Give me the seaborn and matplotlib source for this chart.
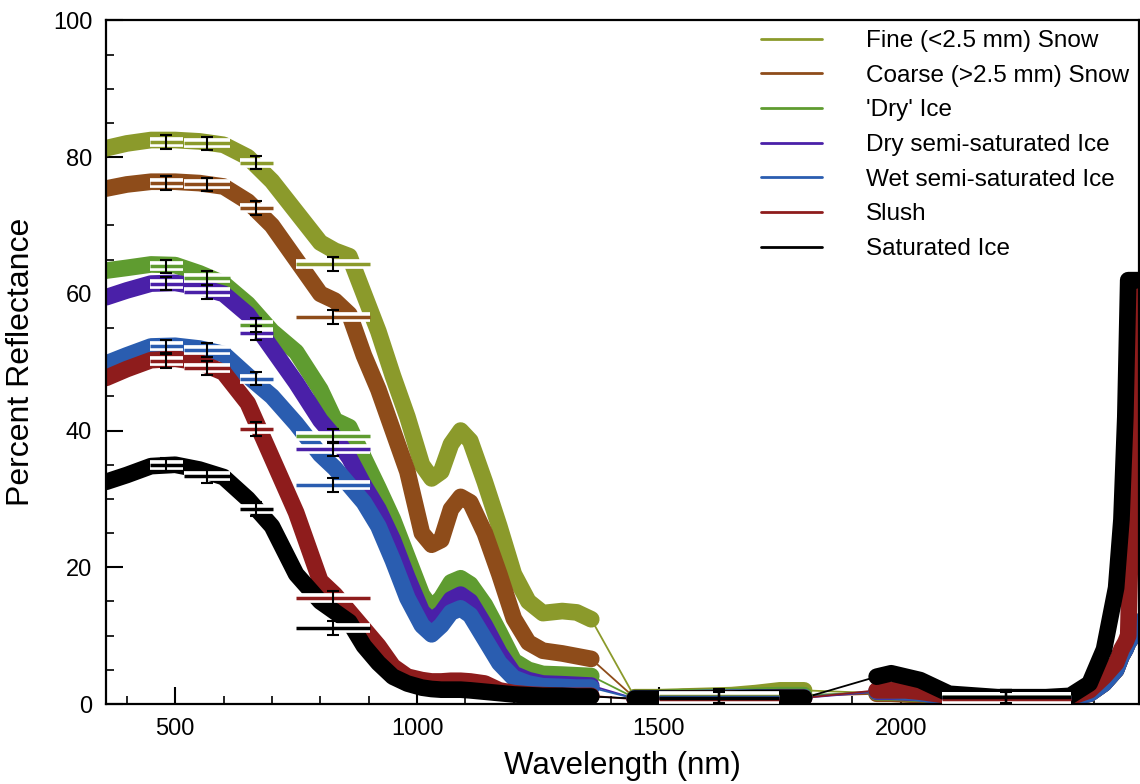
import numpy as np
import pandas as pd
import matplotlib
matplotlib.use("Agg")
import matplotlib.pyplot as plt
from matplotlib.lines import Line2D
from matplotlib.ticker import MultipleLocator
import seaborn as sns

# ---------------- data ----------------
series = ["Fine (<2.5 mm) Snow", "Coarse (>2.5 mm) Snow", "'Dry' Ice",
          "Dry semi-saturated Ice", "Wet semi-saturated Ice", "Slush", "Saturated Ice"]
colors = ["#8b9a2b", "#8e4c1a", "#5f9c30", "#4a20a8", "#2a5db0", "#8e1c1c", "#000000"]

wl_vnir = [357, 400, 450, 500, 550, 600, 650, 700, 750, 800, 830, 860, 890, 920, 950,
           980, 1010, 1030, 1050, 1070, 1090, 1110, 1140, 1170, 1200, 1230, 1260, 1300, 1330, 1360]
wl_swir1 = [1450, 1500, 1550, 1600, 1650, 1700, 1750, 1800]
wl_swir2 = [1950, 1980, 2010, 2040, 2070, 2100, 2200, 2300, 2350, 2390, 2420, 2445, 2456,
            2464, 2470, 2480, 2492]

fine_vnir = [81.3, 82.0, 82.5, 82.5, 82.3, 81.8, 80.0, 76.5, 72.0, 67.5, 66.3, 65.5, 60.0, 54.5, 48.0,
             42.0, 35.0, 33.0, 34.0, 38.0, 40.0, 38.5, 32.5, 26.0, 19.0, 15.0, 13.3, 13.6, 13.4, 12.4]
coarse_vnir = [75.4, 76.0, 76.4, 76.4, 76.2, 75.7, 73.5, 70.0, 65.0, 60.0, 59.0, 57.0, 51.0, 46.0, 40.0,
               34.0, 25.0, 23.3, 24.0, 28.5, 30.3, 29.5, 25.0, 19.0, 12.5, 9.0, 7.8, 7.4, 7.0, 6.6]
dryice_vnir = [63.4, 63.8, 64.3, 64.2, 63.0, 61.5, 58.5, 54.5, 51.5, 46.0, 41.5, 40.5, 36.0, 31.6, 27.0,
               21.5, 16.0, 14.0, 15.5, 17.8, 18.4, 17.5, 14.5, 10.5, 6.3, 5.0, 4.4, 4.3, 4.2, 4.1]
drysemi_vnir = [59.5, 60.5, 61.5, 61.6, 61.0, 60.0, 57.0, 52.0, 47.0, 41.5, 39.0, 36.0, 32.0, 28.5, 24.0,
                18.5, 13.5, 12.2, 13.3, 15.3, 16.0, 15.0, 11.5, 7.5, 4.4, 3.5, 3.0, 2.9, 2.8, 2.7]
wetsemi_vnir = [49.8, 51.0, 52.3, 52.4, 52.0, 51.2, 48.0, 45.0, 41.0, 36.5, 34.5, 32.0, 29.5, 26.0, 21.0,
                15.5, 11.5, 10.2, 11.5, 13.4, 14.0, 13.0, 9.5, 6.0, 3.8, 3.0, 2.6, 2.5, 2.4, 2.4]
slush_vnir = [47.7, 49.0, 50.3, 50.5, 50.0, 48.5, 44.0, 36.0, 28.0, 18.0, 16.0, 13.5, 11.0, 8.5, 5.5,
              4.0, 3.5, 3.3, 3.3, 3.4, 3.4, 3.3, 3.0, 2.0, 1.6, 1.4, 1.3, 1.2, 1.2, 1.2]
satice_vnir = [32.5, 33.5, 34.8, 35.0, 34.3, 33.2, 30.0, 26.0, 19.0, 15.0, 13.5, 12.0, 8.5, 6.0, 4.0,
               3.0, 2.4, 2.2, 2.1, 2.1, 2.1, 2.0, 1.8, 1.6, 1.4, 1.3, 1.2, 1.2, 1.1, 1.1]

fine_swir1 = [1.0, 1.0, 1.1, 1.2, 1.3, 1.6, 2.0, 2.0]
coarse_swir1 = [0.9, 0.9, 1.0, 1.0, 1.0, 1.1, 1.2, 1.2]
dryice_swir1 = [0.9, 0.9, 1.0, 1.0, 1.1, 1.2, 1.3, 1.3]
drysemi_swir1 = [0.8, 0.8, 0.8, 0.8, 0.9, 0.9, 0.9, 0.9]
wetsemi_swir1 = [0.8, 0.8, 0.8, 0.9, 0.9, 0.9, 1.0, 1.0]
slush_swir1 = [0.7, 0.7, 0.8, 0.8, 0.8, 0.8, 0.9, 0.9]
satice_swir1 = [0.8, 0.8, 0.8, 0.8, 0.8, 0.9, 0.9, 0.9]

fine_swir2 = [1.6, 1.6, 1.5, 1.4, 1.2, 1.0, 0.9, 0.9, 1.0, 1.5, 3.0, 5.0, 7.0, 8.0, 9.0, 10.0, 12.0]
coarse_swir2 = [1.5, 1.5, 1.4, 1.3, 1.2, 1.0, 0.9, 0.9, 1.0, 1.5, 3.0, 5.0, 7.0, 8.0, 9.0, 10.0, 12.0]
dryice_swir2 = [1.7, 1.7, 1.6, 1.5, 1.3, 1.0, 0.9, 0.9, 1.0, 1.5, 3.0, 5.0, 7.0, 8.0, 9.0, 10.0, 12.0]
drysemi_swir2 = [1.8, 1.8, 1.7, 1.6, 1.3, 1.1, 0.9, 0.9, 1.0, 1.5, 3.0, 5.0, 7.0, 8.0, 9.0, 10.0, 12.0]
wetsemi_swir2 = [1.9, 1.9, 1.8, 1.6, 1.3, 1.1, 0.9, 0.9, 1.0, 1.5, 3.0, 5.0, 7.0, 8.0, 9.0, 10.0, 12.0]
slush_swir2 = [2.0, 2.0, 2.0, 1.8, 1.5, 1.2, 0.9, 0.9, 1.0, 2.0, 4.0, 6.0, 8.0, 9.0, 10.0, 40.0, 60.0]
satice_swir2 = [4.0, 4.5, 4.0, 3.5, 2.5, 1.5, 1.0, 1.0, 1.2, 3.0, 8.0, 17.0, 27.0, 42.0, 62.0, 62.0, 62.0]

# Landsat band reflectances (centre, half width)
band_center = [482, 566, 668, 826, 1624, 2218]
band_halfwidth = [34, 47, 34, 76, 124, 133]
fine_band = [82.2, 82.0, 79.2, 64.4, 1.2, 1.1]
coarse_band = [76.2, 76.0, 72.6, 56.6, 1.0, 1.0]
dryice_band = [64.0, 62.3, 55.4, 39.2, 1.1, 1.0]
drysemi_band = [61.5, 60.3, 54.3, 37.3, 0.9, 0.9]
wetsemi_band = [52.3, 51.8, 47.6, 32.0, 1.0, 1.0]
slush_band = [50.2, 49.2, 40.2, 15.5, 0.8, 0.8]
satice_band = [35.0, 33.4, 28.5, 11.1, 0.9, 1.0]

vnir = [fine_vnir, coarse_vnir, dryice_vnir, drysemi_vnir, wetsemi_vnir, slush_vnir, satice_vnir]
swir1 = [fine_swir1, coarse_swir1, dryice_swir1, drysemi_swir1, wetsemi_swir1, slush_swir1, satice_swir1]
swir2 = [fine_swir2, coarse_swir2, dryice_swir2, drysemi_swir2, wetsemi_swir2, slush_swir2, satice_swir2]
bands = [fine_band, coarse_band, dryice_band, drysemi_band, wetsemi_band, slush_band, satice_band]

rows = []
for name, a, b, c in zip(series, vnir, swir1, swir2):
    for seg, (wls, vals) in enumerate([(wl_vnir, a), (wl_swir1, b), (wl_swir2, c)]):
        for w, v in zip(wls, vals):
            rows.append({"series": name, "seg": seg, "wl": w, "refl": v})
df = pd.DataFrame(rows)
df["unit"] = df["series"] + "_" + df["seg"].astype(str)

# ---------------- plot ----------------
sns.set_theme(style="white")
plt.rcParams["font.family"] = ["Liberation Sans", "DejaVu Sans"]
plt.rcParams["text.color"] = "black"
plt.rcParams["axes.labelcolor"] = "black"
plt.rcParams["xtick.color"] = "black"
plt.rcParams["ytick.color"] = "black"

fig = plt.figure(figsize=(11.4, 7.84), dpi=100)
ax = fig.add_axes([0.093, 0.102, 0.906, 0.872])
palette = dict(zip(series, colors))

# thin connecting lines across the water-absorption gaps
sns.lineplot(data=df, x="wl", y="refl", hue="series", units="series", estimator=None,
             palette=palette, linewidth=1.3, legend=False, ax=ax, sort=True)
# thick spectra
sns.lineplot(data=df, x="wl", y="refl", hue="series", units="unit", estimator=None,
             palette=palette, linewidth=12, legend=False, ax=ax, sort=True,
             solid_capstyle="round", solid_joinstyle="round")

# band-averaged error bars
for name, col, vals in zip(series, colors, bands):
    ax.errorbar(band_center, vals, xerr=band_halfwidth, fmt="none", ecolor="white",
                elinewidth=7, capsize=0, zorder=5)
    ax.errorbar(band_center, vals, xerr=band_halfwidth, fmt="none", ecolor=col,
                elinewidth=2.5, capsize=0, zorder=6)
    ax.errorbar(band_center, vals, yerr=1.0, fmt="none", ecolor="black",
                elinewidth=1.5, capsize=4, capthick=1.5, zorder=7)

ax.set_xlim(357, 2492)
ax.set_ylim(0, 100)
ax.xaxis.set_major_locator(MultipleLocator(500))
ax.xaxis.set_minor_locator(MultipleLocator(100))
ax.yaxis.set_major_locator(MultipleLocator(20))
ax.yaxis.set_minor_locator(MultipleLocator(5))
ax.tick_params(which="major", direction="in", length=12, width=1.5, labelsize=17,
               bottom=True, left=True, top=False, right=False, pad=10)
ax.tick_params(which="minor", direction="in", length=6, width=1.2,
               bottom=True, left=True, top=False, right=False)
for s in ax.spines.values():
    s.set_color("black")
    s.set_linewidth(1.6)

ax.set_xlabel("Wavelength (nm)", fontsize=22.5, labelpad=8)
ax.set_ylabel("Percent Reflectance", fontsize=23, labelpad=12)

handles = [Line2D([0], [0], color=c, lw=2) for c in colors]
ax.legend(handles, series, loc="upper right", frameon=False, fontsize=17.5,
          handlelength=2.5, handletextpad=1.8, labelspacing=0.52,
          bbox_to_anchor=(1.0, 1.0), borderaxespad=0.0)

fig.savefig("out.png", dpi=100)
